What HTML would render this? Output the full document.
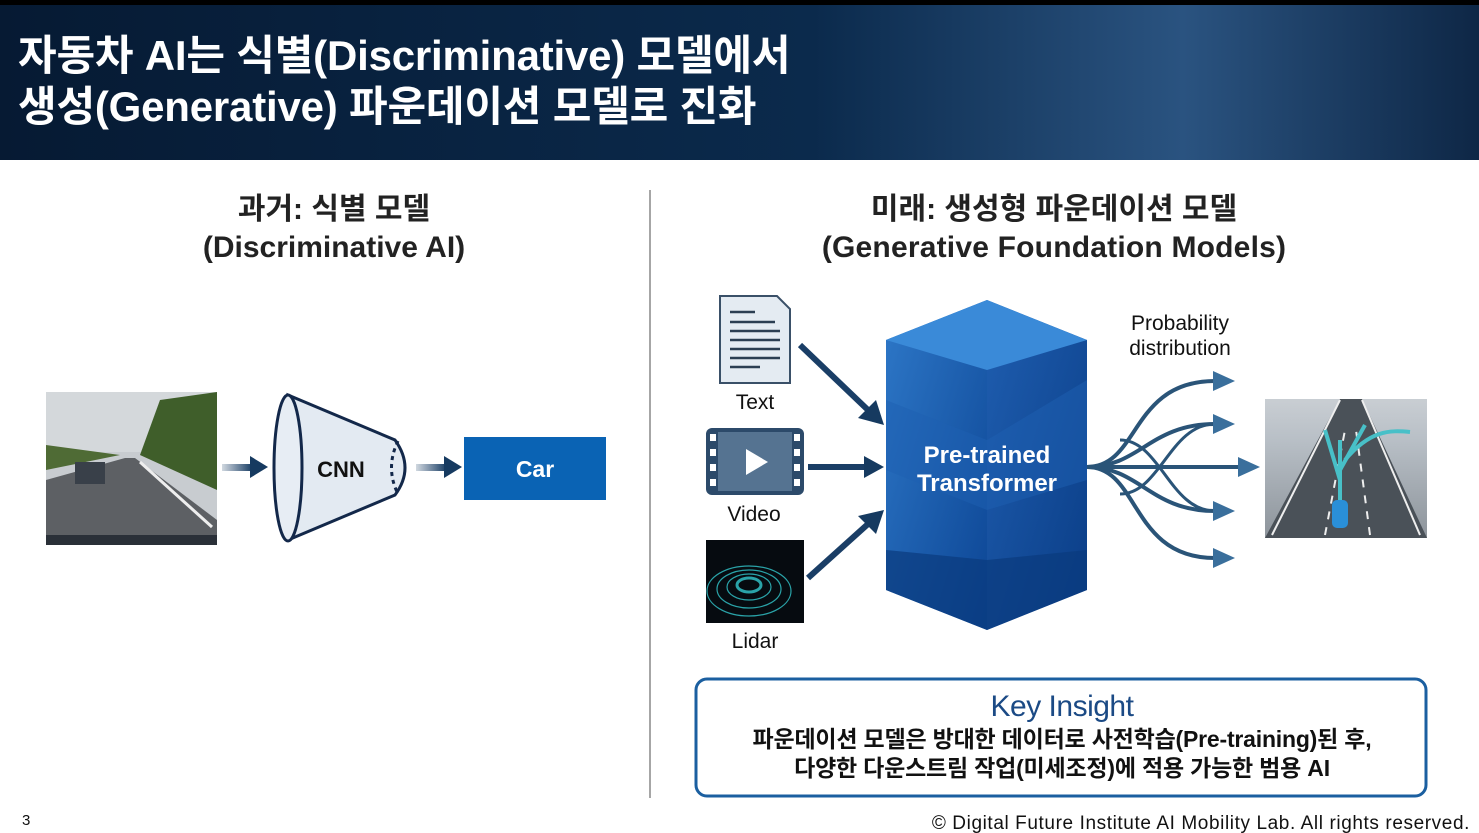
<!DOCTYPE html>
<html><head><meta charset="utf-8"><style>
body{margin:0;width:1479px;height:833px;overflow:hidden;background:#fff;font-family:"Liberation Sans","Noto Sans CJK KR",sans-serif;}
</style></head><body>
<svg width="1479" height="833" viewBox="0 0 1479 833" xmlns="http://www.w3.org/2000/svg" style="position:absolute;left:0;top:0">
<defs>
<linearGradient id="hdr" x1="0" y1="0" x2="1" y2="0">
<stop offset="0" stop-color="#061a33"/><stop offset="0.55" stop-color="#0b2a4c"/><stop offset="0.8" stop-color="#2a5380"/><stop offset="1" stop-color="#0e2746"/></linearGradient>
<linearGradient id="cl" x1="0" y1="0" x2="1" y2="1"><stop offset="0" stop-color="#2e78c8"/><stop offset="1" stop-color="#0c4594"/></linearGradient>
<linearGradient id="cr" x1="0" y1="0" x2="1" y2="1"><stop offset="0" stop-color="#1f5eb0"/><stop offset="1" stop-color="#0a3d86"/></linearGradient>
<linearGradient id="ar" x1="0" y1="0" x2="1" y2="0"><stop offset="0" stop-color="#1b3f66" stop-opacity="0.2"/><stop offset="1" stop-color="#1b3f66"/></linearGradient>
<linearGradient id="road" x1="0" y1="0" x2="0" y2="1"><stop offset="0" stop-color="#c9ced3"/><stop offset="0.3" stop-color="#b8bfc6"/><stop offset="1" stop-color="#8d949b"/></linearGradient>
</defs>
<rect x="0" y="0" width="1479" height="160" fill="url(#hdr)"/>
<rect x="0" y="0" width="1479" height="5" fill="#000"/>
<text x="18" y="70" fill="#fff" font-size="42" font-weight="bold" letter-spacing="-0.2">자동차 AI는 식별(Discriminative) 모델에서</text>
<text x="18" y="121" fill="#fff" font-size="42" font-weight="bold" letter-spacing="-0.2">생성(Generative) 파운데이션 모델로 진화</text>

<text x="334" y="219" text-anchor="middle" font-size="30" font-weight="bold" fill="#222">과거: 식별 모델</text>
<text x="334" y="257" text-anchor="middle" font-size="30" font-weight="bold" fill="#222">(Discriminative AI)</text>
<text x="1054" y="219" text-anchor="middle" font-size="30" font-weight="bold" fill="#222">미래: 생성형 파운데이션 모델</text>
<text x="1054" y="257" text-anchor="middle" font-size="30" font-weight="bold" fill="#222" letter-spacing="0.2">(Generative Foundation Models)</text>
<line x1="650" y1="190" x2="650" y2="798" stroke="#888" stroke-width="1.5"/>

<rect x="46" y="392" width="171" height="153" fill="#c8ccd0"/>
<rect x="46" y="392" width="171" height="60" fill="#d4d8db"/>
<polygon points="46,445 120,455 46,470" fill="#4f6b35"/>
<polygon points="140,455 160,400 217,392 217,490" fill="#3f5e2a"/>
<polygon points="46,480 125,458 135,458 217,520 217,545 46,545" fill="#5d6064"/>
<rect x="75" y="462" width="30" height="22" fill="#394049"/>
<line x1="140" y1="462" x2="212" y2="527" stroke="#eee" stroke-width="3"/>
<rect x="46" y="535" width="171" height="10" fill="#2a3038"/>
<rect x="222" y="464" width="30" height="7" fill="url(#ar)"/><polygon points="250,456 268,467 250,478" fill="#163a60"/>
<rect x="416" y="464" width="30" height="7" fill="url(#ar)"/><polygon points="444,456 462,467 444,478" fill="#163a60"/>
<path d="M 288 395 L 395 440 Q 415 468 395 495 L 288 540 Z" fill="#e3eaf2" stroke="#13284a" stroke-width="3"/>
<ellipse cx="288" cy="468" rx="14" ry="73" fill="#e7edf4" stroke="#13284a" stroke-width="3"/>
<path d="M 398 441 Q 385 468 398 494" fill="none" stroke="#13284a" stroke-width="3" stroke-dasharray="4 4"/>
<text x="341" y="477" text-anchor="middle" font-size="22" font-weight="bold" fill="#111">CNN</text>
<rect x="464" y="437" width="142" height="63" fill="#0a63b4"/>
<text x="535" y="477" text-anchor="middle" font-size="23" font-weight="bold" fill="#fff">Car</text>

<path d="M720 296 H777 L790 309 V383 H720 Z" fill="#e4ebf2" stroke="#3a5068" stroke-width="2"/>
<g stroke="#2b3e52" stroke-width="2.5"><line x1="730" y1="312" x2="755" y2="312"/><line x1="730" y1="322" x2="775" y2="322"/><line x1="730" y1="331" x2="780" y2="331"/><line x1="730" y1="340" x2="780" y2="340"/><line x1="730" y1="349" x2="780" y2="349"/><line x1="730" y1="358" x2="780" y2="358"/><line x1="730" y1="367" x2="760" y2="367"/></g>
<text x="755" y="409" text-anchor="middle" font-size="21" fill="#111">Text</text>
<rect x="706" y="428" width="98" height="67" rx="6" fill="#2c4a6a"/>
<rect x="718" y="432" width="74" height="59" fill="#557391"/>
<g fill="#fff"><rect x="710" y="434" width="6" height="7"/><rect x="710" y="449" width="6" height="7"/><rect x="710" y="464" width="6" height="7"/><rect x="710" y="479" width="6" height="7"/><rect x="794" y="434" width="6" height="7"/><rect x="794" y="449" width="6" height="7"/><rect x="794" y="464" width="6" height="7"/><rect x="794" y="479" width="6" height="7"/></g>
<polygon points="746,449 768,462 746,475" fill="#fff"/>
<text x="754" y="521" text-anchor="middle" font-size="21" fill="#111">Video</text>
<rect x="706" y="540" width="98" height="83" fill="#060b10"/>
<g fill="none" stroke="#2aa3a8" stroke-width="1.2"><ellipse cx="749" cy="585" rx="12" ry="7" stroke-width="3"/><ellipse cx="749" cy="587" rx="22" ry="13"/><ellipse cx="749" cy="589" rx="32" ry="19"/><ellipse cx="749" cy="591" rx="42" ry="25"/></g>
<text x="755" y="648" text-anchor="middle" font-size="21" fill="#111">Lidar</text>
<g stroke="#1a3e66" stroke-width="6"><line x1="800" y1="345" x2="868" y2="410"/><line x1="808" y1="467" x2="866" y2="467"/><line x1="808" y1="578" x2="868" y2="524"/></g>
<polygon points="884,425 858,418 876,400" fill="#163a60"/>
<polygon points="884,467 864,456 864,478" fill="#163a60"/>
<polygon points="884,510 876,534 858,516" fill="#163a60"/>

<polygon points="886,340 987,300 987,630 886,590" fill="url(#cl)"/>
<polygon points="987,300 1087,340 1087,590 987,630" fill="url(#cr)"/>
<polygon points="886,340 987,300 1087,340 987,370" fill="#3a8ad8"/>
<polygon points="886,400 987,440 1087,380 1087,480 987,510 886,470" fill="#1d5fb2" opacity="0.5"/>
<polygon points="886,550 987,560 1087,550 1087,590 987,630 886,590" fill="#0a3a7e" opacity="0.7"/>
<text x="987" y="463" text-anchor="middle" font-size="24" font-weight="bold" fill="#fff">Pre-trained</text>
<text x="987" y="491" text-anchor="middle" font-size="24" font-weight="bold" fill="#fff">Transformer</text>

<g fill="none" stroke="#2a5478" stroke-width="4">
<path d="M1087 467 C1140 467 1130 381 1215 381"/>
<path d="M1087 467 C1140 467 1150 424 1215 424"/>
<path d="M1087 467 H1240"/>
<path d="M1087 467 C1140 467 1150 511 1215 511"/>
<path d="M1087 467 C1140 467 1130 558 1215 558"/>
<path d="M1120 440 C1160 440 1170 511 1215 511" stroke-width="3"/>
<path d="M1120 494 C1160 494 1170 424 1215 424" stroke-width="3"/>
</g>
<g fill="#3a6f9c"><polygon points="1213,371 1235,381 1213,391"/><polygon points="1213,414 1235,424 1213,434"/><polygon points="1238,457 1260,467 1238,477"/><polygon points="1213,501 1235,511 1213,521"/><polygon points="1213,548 1235,558 1213,568"/></g>
<text x="1180" y="330" text-anchor="middle" font-size="21" fill="#111">Probability</text>
<text x="1180" y="355" text-anchor="middle" font-size="21" fill="#111">distribution</text>
<rect x="1265" y="399" width="162" height="139" fill="url(#road)"/>
<polygon points="1265,538 1340,399 1362,399 1427,538" fill="#4a5158"/>
<g stroke="#eee" stroke-width="2" fill="none"><line x1="1272" y1="535" x2="1340" y2="400"/><line x1="1420" y1="535" x2="1362" y2="400"/><line x1="1325" y1="535" x2="1345" y2="430" stroke-dasharray="8 8"/><line x1="1370" y1="535" x2="1356" y2="430" stroke-dasharray="8 8"/></g>
<g stroke="#48c0c8" stroke-width="4" fill="none"><path d="M1340 510 L1340 440"/><path d="M1340 480 L1325 430"/><path d="M1340 470 L1365 425"/><path d="M1345 460 C1370 430 1390 430 1410 432"/></g>
<rect x="1332" y="500" width="16" height="28" rx="5" fill="#2a8fd8"/>

<rect x="696" y="679" width="730" height="117" rx="11" fill="#fff" stroke="#1b5fa0" stroke-width="3"/>
<text x="1062" y="716" text-anchor="middle" font-size="30" fill="#1b4a85" letter-spacing="-0.5">Key Insight</text>
<text x="1062" y="747" text-anchor="middle" font-size="23" font-weight="bold" fill="#111" letter-spacing="-0.2">파운데이션 모델은 방대한 데이터로 사전학습(Pre-training)된 후,</text>
<text x="1062" y="776" text-anchor="middle" font-size="23" font-weight="bold" fill="#111" letter-spacing="-0.2">다양한 다운스트림 작업(미세조정)에 적용 가능한 범용 AI</text>

<text x="22" y="825" font-size="15" fill="#111">3</text>
<text x="1470" y="829" text-anchor="end" font-size="19" fill="#111" letter-spacing="0.6">© Digital Future Institute AI Mobility Lab. All rights reserved.</text>
</svg>
</body></html>
